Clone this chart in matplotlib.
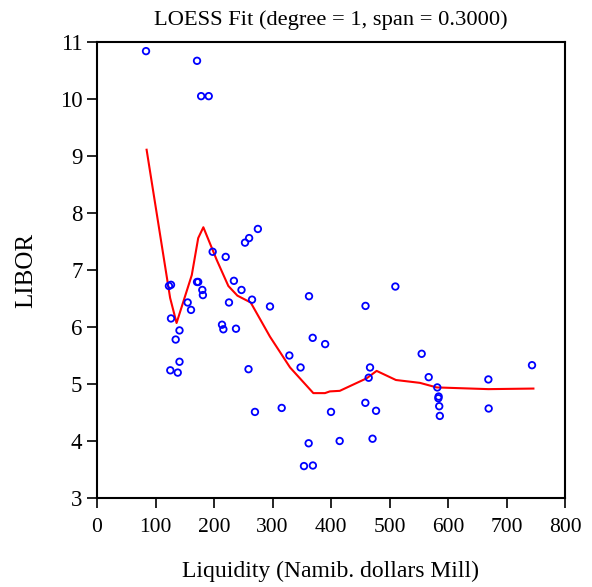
import matplotlib
matplotlib.use("Agg")
import matplotlib.pyplot as plt

liquidity = [83.8, 171, 178, 191, 197.7, 220, 253, 260, 275,
             123, 126.5, 126.5, 141, 134.5, 141, 125.3, 138,
             155, 160.7, 171, 173, 180, 181,
             234, 247, 225.6, 265, 295.7,
             213.7, 216, 237.6,
             259, 270, 315.7, 328.8,
             348, 362.4, 368.7, 390, 400, 361.8, 353.8, 369, 414.8,
             459, 510, 466.7, 464.4, 458.7, 477, 471,
             555, 567, 581.7, 584, 583.5, 585, 586,
             669, 669.5, 743.6]
libor = [10.84, 10.67, 10.05, 10.05, 7.32, 7.23, 7.48, 7.56, 7.72,
         6.72, 6.74, 6.15, 5.94, 5.78, 5.39, 5.24, 5.20,
         6.43, 6.30, 6.79, 6.79, 6.65, 6.56,
         6.81, 6.65, 6.43, 6.48, 6.36,
         6.04, 5.96, 5.97,
         5.26, 4.51, 4.58, 5.50,
         5.29, 6.54, 5.81, 5.70, 4.51, 3.96, 3.56, 3.57, 4.00,
         6.37, 6.71, 5.29, 5.11, 4.67, 4.53, 4.04,
         5.53, 5.12, 4.94, 4.78, 4.75, 4.61, 4.44,
         5.08, 4.57, 5.33]

fit_x = [84.8, 125, 136, 162, 173, 181.8, 204.5, 224.5, 240, 262.7,
         295.7, 330, 369.8, 389.7, 398, 415, 461, 478, 511, 552,
         580.6, 669, 746]
fit_y = [9.11, 6.51, 6.07, 6.91, 7.56, 7.75, 7.18, 6.72, 6.55, 6.43,
         5.83, 5.29, 4.84, 4.84, 4.87, 4.88, 5.10, 5.23, 5.07, 5.02,
         4.94, 4.91, 4.92]

x_ticks = [0, 100, 200, 300, 400, 500, 600, 700, 800]
y_ticks = [3, 4, 5, 6, 7, 8, 9, 10, 11]

plt.rcParams['font.family'] = ['Liberation Serif', 'DejaVu Serif']

fig = plt.figure(figsize=(5.92, 5.87), dpi=100)
ax = fig.add_axes([97/592, 1-498/587, (565-97)/592, (498-42)/587])

ax.scatter(liquidity, libor, s=22, facecolors='none', edgecolors='#0000ff',
           linewidths=1.3, zorder=3)
ax.plot(fit_x, fit_y, color='#ff0000', lw=1.5, zorder=2)

ax.set_xlim(0, 800)
ax.set_ylim(3, 11)
ax.set_xticks(x_ticks)
ax.set_yticks(y_ticks)
ax.tick_params(axis='both', direction='out', length=7.5, width=1.2,
               labelsize=15.5, top=False, right=False)
ax.tick_params(axis='x', pad=7)
ax.tick_params(axis='y', pad=3, labelsize=16.5)
for s in ax.spines.values():
    s.set_linewidth(1.5)

ax.set_title('LOESS Fit (degree = 1, span = 0.3000)', fontsize=16.2, pad=12)
ax.set_xlabel('Liquidity (Namib. dollars Mill)', fontsize=17, labelpad=17)
ax.set_ylabel('LIBOR', fontsize=18, labelpad=16)

fig.savefig('out.png', dpi=100)
